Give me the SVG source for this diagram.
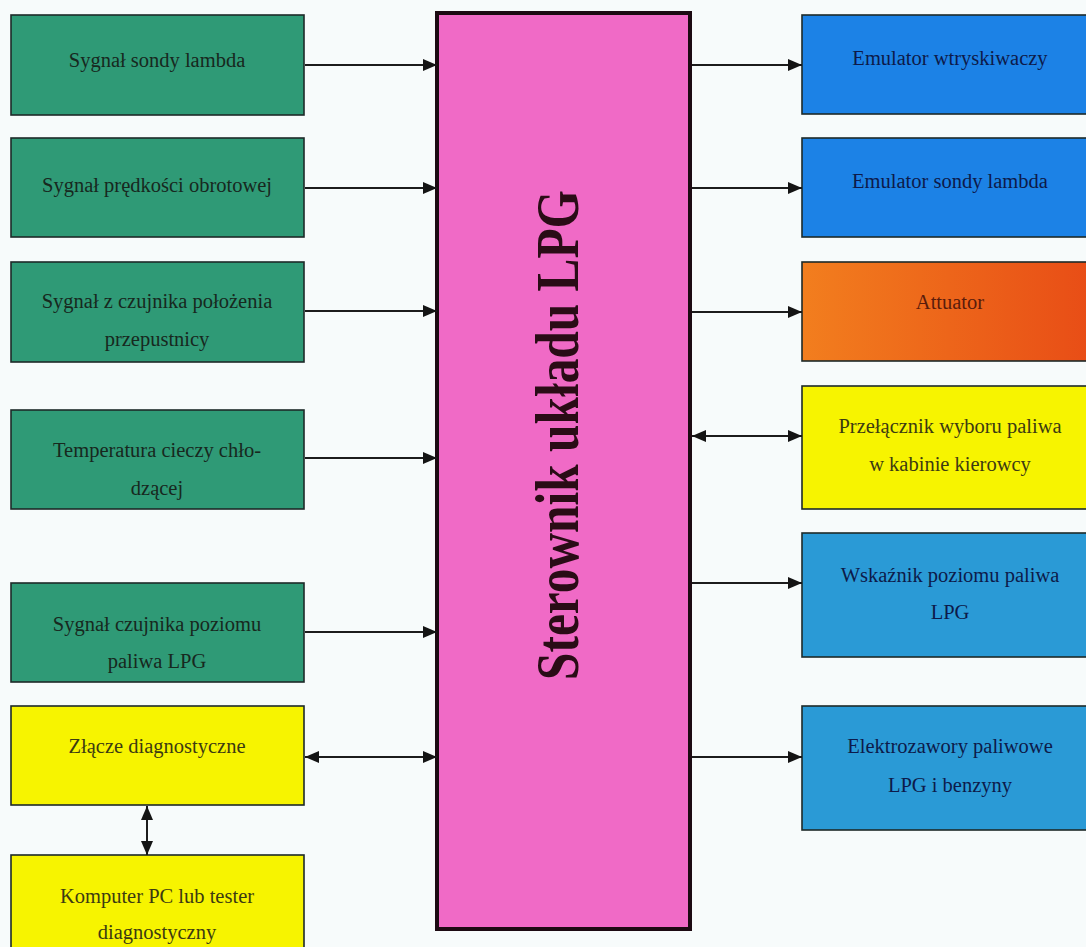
<svg xmlns="http://www.w3.org/2000/svg" width="1086" height="947" viewBox="0 0 1086 947">
<defs>
<style>
.box{stroke:#1d2a28;stroke-width:1.6}
.g{fill:#2f9a76}
.y{fill:#f7f400}
.b1{fill:#1c82e6}
.b2{fill:#2a9ad6}
.t{font-family:"Liberation Serif","Times New Roman",serif;font-size:20.5px;text-anchor:middle}
.tg{fill:#17281e}
.ty{fill:#3c3a12}
.tb{fill:#0d1a4a}
.to{fill:#5a1c0c}
.c{stroke:#1c1c1c;stroke-width:2;fill:none}
</style>
<marker id="ah" markerUnits="userSpaceOnUse" markerWidth="16" markerHeight="12" refX="14" refY="6" orient="auto-start-reverse">
<path d="M0,0 L14,6 L0,12 z" fill="#141414"/>
</marker>
<linearGradient id="og" x1="0" y1="0" x2="1" y2="0">
<stop offset="0" stop-color="#f27e1e"/>
<stop offset="1" stop-color="#e84c16"/>
</linearGradient>
</defs>
<rect width="1086" height="947" fill="#f7fbfb"/>

<g id="center">
<rect x="437" y="13" width="253" height="916" fill="#f06ac6" stroke="#1c0a12" stroke-width="4"/>
<text transform="translate(578,435) rotate(-90)" font-family="'Liberation Serif','Times New Roman',serif" font-weight="bold" font-size="62" text-anchor="middle" textLength="490" lengthAdjust="spacingAndGlyphs" fill="#2a0c16">Sterownik układu LPG</text>
</g>

<g id="in1"><rect class="box g" x="11" y="15" width="293" height="100"/><text class="t tg" x="157" y="67">Sygnał sondy lambda</text></g>
<g id="in2"><rect class="box g" x="11" y="138" width="293" height="99"/><text class="t tg" x="157" y="192">Sygnał prędkości obrotowej</text></g>
<g id="in3"><rect class="box g" x="11" y="262" width="293" height="100"/><text class="t tg" x="157" y="308">Sygnał z czujnika położenia</text><text class="t tg" x="157" y="346">przepustnicy</text></g>
<g id="in4"><rect class="box g" x="11" y="410" width="293" height="99"/><text class="t tg" x="157" y="457">Temperatura cieczy chło-</text><text class="t tg" x="157" y="495">dzącej</text></g>
<g id="in5"><rect class="box g" x="11" y="583" width="293" height="99"/><text class="t tg" x="157" y="631">Sygnał czujnika poziomu</text><text class="t tg" x="157" y="668">paliwa LPG</text></g>
<g id="diag"><rect class="box y" x="11" y="706" width="293" height="99"/><text class="t ty" x="157" y="753">Złącze diagnostyczne</text></g>
<g id="pc"><rect class="box y" x="11" y="855" width="293" height="100"/><text class="t ty" x="157" y="903">Komputer PC lub tester</text><text class="t ty" x="157" y="939">diagnostyczny</text></g>

<g id="out1"><rect class="box b1" x="802" y="15" width="295" height="99"/><text class="t tb" x="950" y="65">Emulator wtryskiwaczy</text></g>
<g id="out2"><rect class="box b1" x="802" y="138" width="295" height="99"/><text class="t tb" x="950" y="188">Emulator sondy lambda</text></g>
<g id="out3"><rect class="box" fill="url(#og)" x="802" y="262" width="295" height="99"/><text class="t to" x="950" y="309">Attuator</text></g>
<g id="out4"><rect class="box y" x="802" y="386" width="295" height="123"/><text class="t ty" x="950" y="433">Przełącznik wyboru paliwa</text><text class="t ty" x="950" y="471">w kabinie kierowcy</text></g>
<g id="out5"><rect class="box b2" x="802" y="533" width="295" height="124"/><text class="t tb" x="950" y="582">Wskaźnik poziomu paliwa</text><text class="t tb" x="950" y="619">LPG</text></g>
<g id="out6"><rect class="box b2" x="802" y="706" width="295" height="124"/><text class="t tb" x="950" y="753">Elektrozawory paliwowe</text><text class="t tb" x="950" y="792">LPG i benzyny</text></g>

<g id="connectors">
<line class="c" x1="305" y1="65" x2="437" y2="65" marker-end="url(#ah)"/>
<line class="c" x1="305" y1="188" x2="437" y2="188" marker-end="url(#ah)"/>
<line class="c" x1="305" y1="311" x2="437" y2="311" marker-end="url(#ah)"/>
<line class="c" x1="305" y1="458" x2="437" y2="458" marker-end="url(#ah)"/>
<line class="c" x1="305" y1="632" x2="437" y2="632" marker-end="url(#ah)"/>
<line class="c" x1="305" y1="757" x2="437" y2="757" marker-start="url(#ah)" marker-end="url(#ah)"/>
<line class="c" x1="147" y1="806" x2="147" y2="855" marker-start="url(#ah)" marker-end="url(#ah)"/>
<line class="c" x1="692" y1="65" x2="802" y2="65" marker-end="url(#ah)"/>
<line class="c" x1="692" y1="188" x2="802" y2="188" marker-end="url(#ah)"/>
<line class="c" x1="692" y1="312" x2="802" y2="312" marker-end="url(#ah)"/>
<line class="c" x1="692" y1="436" x2="802" y2="436" marker-start="url(#ah)" marker-end="url(#ah)"/>
<line class="c" x1="692" y1="583" x2="802" y2="583" marker-end="url(#ah)"/>
<line class="c" x1="692" y1="757" x2="802" y2="757" marker-end="url(#ah)"/>
</g>
</svg>
